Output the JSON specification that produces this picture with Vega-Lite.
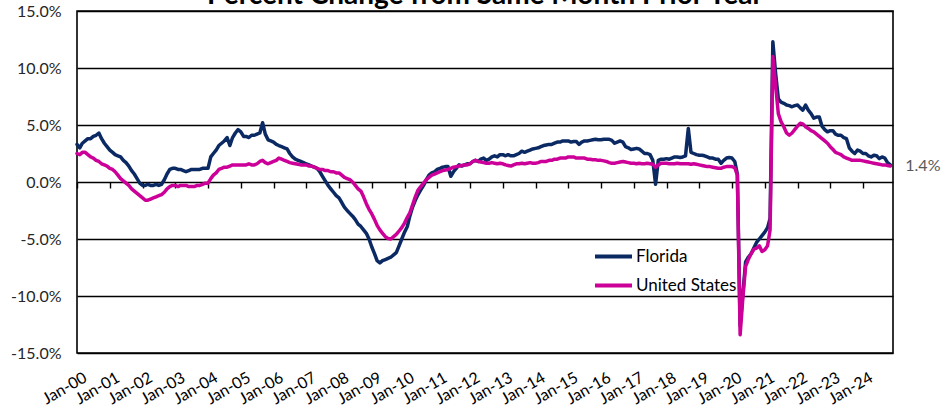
{
  "$schema": "https://vega.github.io/schema/vega-lite/v6.json",
  "width": 816,
  "height": 342,
  "autosize": "none",
  "padding": {"left": 77, "top": 11, "right": 51, "bottom": 53},
  "background": "white",
  "title": {"text": "Percent Change from Same Month Prior Year", "font": "Lato", "fontSize": 28, "fontWeight": "bold", "color": "#000000", "anchor": "middle", "dy": 11},
  "config": {"view": {"stroke": "#000000", "strokeWidth": 1.6}, "font": "Lato"},
  "datasets": {
    "emp": [
      {"date":"2000-01-01","fl":3.3,"us":2.5},{"date":"2000-02-01","fl":3.0,"us":2.4},{"date":"2000-03-01","fl":3.4,"us":2.6},{"date":"2000-04-01","fl":3.6,"us":2.6},{"date":"2000-05-01","fl":3.8,"us":2.4},{"date":"2000-06-01","fl":3.8,"us":2.2},{"date":"2000-07-01","fl":4.0,"us":2.1},{"date":"2000-08-01","fl":4.1,"us":1.9},{"date":"2000-09-01","fl":4.3,"us":1.8},{"date":"2000-10-01","fl":3.8,"us":1.6},{"date":"2000-11-01","fl":3.4,"us":1.5},{"date":"2000-12-01","fl":3.1,"us":1.4},
      {"date":"2001-01-01","fl":2.8,"us":1.2},{"date":"2001-02-01","fl":2.6,"us":1.1},{"date":"2001-03-01","fl":2.4,"us":0.9},{"date":"2001-04-01","fl":2.3,"us":0.6},{"date":"2001-05-01","fl":2.2,"us":0.3},{"date":"2001-06-01","fl":1.9,"us":0.1},{"date":"2001-07-01","fl":1.7,"us":-0.1},{"date":"2001-08-01","fl":1.4,"us":-0.3},{"date":"2001-09-01","fl":1.0,"us":-0.6},{"date":"2001-10-01","fl":0.7,"us":-0.8},{"date":"2001-11-01","fl":0.3,"us":-1.0},{"date":"2001-12-01","fl":-0.1,"us":-1.2},
      {"date":"2002-01-01","fl":-0.3,"us":-1.4},{"date":"2002-02-01","fl":-0.3,"us":-1.6},{"date":"2002-03-01","fl":-0.2,"us":-1.6},{"date":"2002-04-01","fl":-0.3,"us":-1.5},{"date":"2002-05-01","fl":-0.3,"us":-1.4},{"date":"2002-06-01","fl":-0.2,"us":-1.3},{"date":"2002-07-01","fl":-0.3,"us":-1.2},{"date":"2002-08-01","fl":-0.2,"us":-1.1},{"date":"2002-09-01","fl":0.2,"us":-0.9},{"date":"2002-10-01","fl":0.7,"us":-0.6},{"date":"2002-11-01","fl":1.1,"us":-0.4},{"date":"2002-12-01","fl":1.2,"us":-0.3},
      {"date":"2003-01-01","fl":1.2,"us":-0.3},{"date":"2003-02-01","fl":1.1,"us":-0.4},{"date":"2003-03-01","fl":1.1,"us":-0.3},{"date":"2003-04-01","fl":1.0,"us":-0.3},{"date":"2003-05-01","fl":0.9,"us":-0.3},{"date":"2003-06-01","fl":1.0,"us":-0.4},{"date":"2003-07-01","fl":1.1,"us":-0.4},{"date":"2003-08-01","fl":1.1,"us":-0.4},{"date":"2003-09-01","fl":1.1,"us":-0.3},{"date":"2003-10-01","fl":1.1,"us":-0.3},{"date":"2003-11-01","fl":1.2,"us":-0.2},{"date":"2003-12-01","fl":1.2,"us":-0.1},
      {"date":"2004-01-01","fl":1.2,"us":-0.1},{"date":"2004-02-01","fl":2.2,"us":0.3},{"date":"2004-03-01","fl":2.5,"us":0.6},{"date":"2004-04-01","fl":2.8,"us":0.8},{"date":"2004-05-01","fl":3.2,"us":1.1},{"date":"2004-06-01","fl":3.4,"us":1.2},{"date":"2004-07-01","fl":3.6,"us":1.3},{"date":"2004-08-01","fl":3.9,"us":1.3},{"date":"2004-09-01","fl":3.2,"us":1.4},{"date":"2004-10-01","fl":3.9,"us":1.5},{"date":"2004-11-01","fl":4.3,"us":1.5},{"date":"2004-12-01","fl":4.6,"us":1.5},
      {"date":"2005-01-01","fl":4.4,"us":1.5},{"date":"2005-02-01","fl":4.0,"us":1.5},{"date":"2005-03-01","fl":4.0,"us":1.5},{"date":"2005-04-01","fl":3.9,"us":1.6},{"date":"2005-05-01","fl":4.1,"us":1.5},{"date":"2005-06-01","fl":4.1,"us":1.5},{"date":"2005-07-01","fl":4.2,"us":1.6},{"date":"2005-08-01","fl":4.3,"us":1.8},{"date":"2005-09-01","fl":5.2,"us":1.9},{"date":"2005-10-01","fl":4.2,"us":1.7},{"date":"2005-11-01","fl":3.7,"us":1.6},{"date":"2005-12-01","fl":3.6,"us":1.7},
      {"date":"2006-01-01","fl":3.5,"us":1.8},{"date":"2006-02-01","fl":3.3,"us":1.9},{"date":"2006-03-01","fl":3.2,"us":2.1},{"date":"2006-04-01","fl":3.1,"us":2.0},{"date":"2006-05-01","fl":3.0,"us":1.9},{"date":"2006-06-01","fl":2.9,"us":1.8},{"date":"2006-07-01","fl":2.5,"us":1.7},{"date":"2006-08-01","fl":2.2,"us":1.65},{"date":"2006-09-01","fl":2.0,"us":1.6},{"date":"2006-10-01","fl":1.9,"us":1.55},{"date":"2006-11-01","fl":1.8,"us":1.5},{"date":"2006-12-01","fl":1.7,"us":1.5},
      {"date":"2007-01-01","fl":1.6,"us":1.5},{"date":"2007-02-01","fl":1.5,"us":1.4},{"date":"2007-03-01","fl":1.4,"us":1.4},{"date":"2007-04-01","fl":1.3,"us":1.3},{"date":"2007-05-01","fl":1.2,"us":1.2},{"date":"2007-06-01","fl":0.9,"us":1.1},{"date":"2007-07-01","fl":0.5,"us":1.1},{"date":"2007-08-01","fl":0.1,"us":1.0},{"date":"2007-09-01","fl":-0.3,"us":1.0},{"date":"2007-10-01","fl":-0.6,"us":0.9},{"date":"2007-11-01","fl":-0.9,"us":0.9},{"date":"2007-12-01","fl":-1.2,"us":0.8},
      {"date":"2008-01-01","fl":-1.4,"us":0.8},{"date":"2008-02-01","fl":-1.8,"us":0.6},{"date":"2008-03-01","fl":-2.2,"us":0.4},{"date":"2008-04-01","fl":-2.5,"us":0.3},{"date":"2008-05-01","fl":-2.75,"us":0.2},{"date":"2008-06-01","fl":-3.0,"us":0.0},{"date":"2008-07-01","fl":-3.3,"us":-0.3},{"date":"2008-08-01","fl":-3.7,"us":-0.6},{"date":"2008-09-01","fl":-3.9,"us":-0.8},{"date":"2008-10-01","fl":-4.2,"us":-1.3},{"date":"2008-11-01","fl":-4.5,"us":-1.9},{"date":"2008-12-01","fl":-5.0,"us":-2.4},
      {"date":"2009-01-01","fl":-5.7,"us":-2.8},{"date":"2009-02-01","fl":-6.3,"us":-3.3},{"date":"2009-03-01","fl":-6.9,"us":-3.8},{"date":"2009-04-01","fl":-7.1,"us":-4.2},{"date":"2009-05-01","fl":-6.9,"us":-4.5},{"date":"2009-06-01","fl":-6.8,"us":-4.8},{"date":"2009-07-01","fl":-6.7,"us":-4.95},{"date":"2009-08-01","fl":-6.6,"us":-5.0},{"date":"2009-09-01","fl":-6.4,"us":-4.8},{"date":"2009-10-01","fl":-6.2,"us":-4.6},{"date":"2009-11-01","fl":-5.6,"us":-4.3},{"date":"2009-12-01","fl":-5.0,"us":-4.0},
      {"date":"2010-01-01","fl":-4.4,"us":-3.6},{"date":"2010-02-01","fl":-3.9,"us":-3.1},{"date":"2010-03-01","fl":-3.0,"us":-2.7},{"date":"2010-04-01","fl":-2.2,"us":-2.0},{"date":"2010-05-01","fl":-1.6,"us":-1.3},{"date":"2010-06-01","fl":-1.1,"us":-0.7},{"date":"2010-07-01","fl":-0.7,"us":-0.4},{"date":"2010-08-01","fl":-0.3,"us":-0.1},{"date":"2010-09-01","fl":0.2,"us":0.2},{"date":"2010-10-01","fl":0.6,"us":0.4},{"date":"2010-11-01","fl":0.8,"us":0.6},{"date":"2010-12-01","fl":0.9,"us":0.7},
      {"date":"2011-01-01","fl":1.1,"us":0.8},{"date":"2011-02-01","fl":1.2,"us":0.9},{"date":"2011-03-01","fl":1.3,"us":1.0},{"date":"2011-04-01","fl":1.35,"us":1.05},{"date":"2011-05-01","fl":1.35,"us":1.1},{"date":"2011-06-01","fl":0.5,"us":1.2},{"date":"2011-07-01","fl":0.9,"us":1.3},{"date":"2011-08-01","fl":1.2,"us":1.35},{"date":"2011-09-01","fl":1.5,"us":1.4},{"date":"2011-10-01","fl":1.4,"us":1.45},{"date":"2011-11-01","fl":1.5,"us":1.5},{"date":"2011-12-01","fl":1.6,"us":1.5},
      {"date":"2012-01-01","fl":1.6,"us":1.6},{"date":"2012-02-01","fl":1.8,"us":1.8},{"date":"2012-03-01","fl":1.9,"us":1.9},{"date":"2012-04-01","fl":1.8,"us":1.8},{"date":"2012-05-01","fl":2.0,"us":1.75},{"date":"2012-06-01","fl":2.1,"us":1.7},{"date":"2012-07-01","fl":1.9,"us":1.65},{"date":"2012-08-01","fl":2.0,"us":1.65},{"date":"2012-09-01","fl":2.2,"us":1.7},{"date":"2012-10-01","fl":2.3,"us":1.65},{"date":"2012-11-01","fl":2.2,"us":1.6},{"date":"2012-12-01","fl":2.4,"us":1.65},
      {"date":"2013-01-01","fl":2.4,"us":1.6},{"date":"2013-02-01","fl":2.3,"us":1.5},{"date":"2013-03-01","fl":2.4,"us":1.45},{"date":"2013-04-01","fl":2.3,"us":1.4},{"date":"2013-05-01","fl":2.3,"us":1.5},{"date":"2013-06-01","fl":2.4,"us":1.6},{"date":"2013-07-01","fl":2.5,"us":1.6},{"date":"2013-08-01","fl":2.7,"us":1.65},{"date":"2013-09-01","fl":2.6,"us":1.6},{"date":"2013-10-01","fl":2.7,"us":1.65},{"date":"2013-11-01","fl":2.8,"us":1.7},{"date":"2013-12-01","fl":2.9,"us":1.65},
      {"date":"2014-01-01","fl":2.95,"us":1.65},{"date":"2014-02-01","fl":3.0,"us":1.7},{"date":"2014-03-01","fl":3.1,"us":1.8},{"date":"2014-04-01","fl":3.2,"us":1.8},{"date":"2014-05-01","fl":3.25,"us":1.8},{"date":"2014-06-01","fl":3.3,"us":1.9},{"date":"2014-07-01","fl":3.3,"us":1.9},{"date":"2014-08-01","fl":3.4,"us":2.0},{"date":"2014-09-01","fl":3.5,"us":2.0},{"date":"2014-10-01","fl":3.5,"us":2.1},{"date":"2014-11-01","fl":3.6,"us":2.1},{"date":"2014-12-01","fl":3.6,"us":2.1},
      {"date":"2015-01-01","fl":3.6,"us":2.2},{"date":"2015-02-01","fl":3.5,"us":2.2},{"date":"2015-03-01","fl":3.55,"us":2.2},{"date":"2015-04-01","fl":3.55,"us":2.1},{"date":"2015-05-01","fl":3.3,"us":2.1},{"date":"2015-06-01","fl":3.5,"us":2.1},{"date":"2015-07-01","fl":3.6,"us":2.1},{"date":"2015-08-01","fl":3.6,"us":2.0},{"date":"2015-09-01","fl":3.65,"us":2.0},{"date":"2015-10-01","fl":3.7,"us":1.95},{"date":"2015-11-01","fl":3.75,"us":1.95},{"date":"2015-12-01","fl":3.7,"us":1.9},
      {"date":"2016-01-01","fl":3.7,"us":1.9},{"date":"2016-02-01","fl":3.75,"us":1.85},{"date":"2016-03-01","fl":3.75,"us":1.8},{"date":"2016-04-01","fl":3.75,"us":1.7},{"date":"2016-05-01","fl":3.65,"us":1.65},{"date":"2016-06-01","fl":3.4,"us":1.65},{"date":"2016-07-01","fl":3.5,"us":1.7},{"date":"2016-08-01","fl":3.6,"us":1.75},{"date":"2016-09-01","fl":3.5,"us":1.8},{"date":"2016-10-01","fl":3.1,"us":1.75},{"date":"2016-11-01","fl":3.0,"us":1.7},{"date":"2016-12-01","fl":2.85,"us":1.65},
      {"date":"2017-01-01","fl":2.9,"us":1.65},{"date":"2017-02-01","fl":2.95,"us":1.6},{"date":"2017-03-01","fl":2.9,"us":1.65},{"date":"2017-04-01","fl":2.7,"us":1.6},{"date":"2017-05-01","fl":2.5,"us":1.6},{"date":"2017-06-01","fl":2.5,"us":1.65},{"date":"2017-07-01","fl":2.4,"us":1.6},{"date":"2017-08-01","fl":1.9,"us":1.55},{"date":"2017-09-01","fl":-0.2,"us":1.3},{"date":"2017-10-01","fl":1.9,"us":1.5},{"date":"2017-11-01","fl":2.0,"us":1.65},{"date":"2017-12-01","fl":2.0,"us":1.65},
      {"date":"2018-01-01","fl":2.05,"us":1.65},{"date":"2018-02-01","fl":2.0,"us":1.6},{"date":"2018-03-01","fl":2.1,"us":1.6},{"date":"2018-04-01","fl":2.2,"us":1.6},{"date":"2018-05-01","fl":2.2,"us":1.65},{"date":"2018-06-01","fl":2.15,"us":1.6},{"date":"2018-07-01","fl":2.2,"us":1.6},{"date":"2018-08-01","fl":2.3,"us":1.6},{"date":"2018-09-01","fl":4.7,"us":1.6},{"date":"2018-10-01","fl":2.6,"us":1.55},{"date":"2018-11-01","fl":2.5,"us":1.6},{"date":"2018-12-01","fl":2.4,"us":1.55},
      {"date":"2019-01-01","fl":2.35,"us":1.5},{"date":"2019-02-01","fl":2.35,"us":1.45},{"date":"2019-03-01","fl":2.3,"us":1.4},{"date":"2019-04-01","fl":2.2,"us":1.35},{"date":"2019-05-01","fl":2.1,"us":1.35},{"date":"2019-06-01","fl":2.1,"us":1.3},{"date":"2019-07-01","fl":2.0,"us":1.25},{"date":"2019-08-01","fl":2.0,"us":1.2},{"date":"2019-09-01","fl":1.65,"us":1.2},{"date":"2019-10-01","fl":1.9,"us":1.3},{"date":"2019-11-01","fl":2.1,"us":1.35},{"date":"2019-12-01","fl":2.15,"us":1.35},
      {"date":"2020-01-01","fl":2.1,"us":1.35},{"date":"2020-02-01","fl":1.8,"us":1.25},{"date":"2020-03-01","fl":0.7,"us":0.6},{"date":"2020-04-01","fl":-12.6,"us":-13.4},{"date":"2020-05-01","fl":-9.8,"us":-10.2},{"date":"2020-06-01","fl":-7.0,"us":-7.4},{"date":"2020-07-01","fl":-6.6,"us":-6.8},{"date":"2020-08-01","fl":-6.3,"us":-6.3},{"date":"2020-09-01","fl":-5.8,"us":-5.9},{"date":"2020-10-01","fl":-5.3,"us":-5.8},{"date":"2020-11-01","fl":-5.0,"us":-5.6},{"date":"2020-12-01","fl":-4.7,"us":-6.1},
      {"date":"2021-01-01","fl":-4.4,"us":-5.95},{"date":"2021-02-01","fl":-4.0,"us":-5.6},{"date":"2021-03-01","fl":-3.2,"us":-4.2},{"date":"2021-04-01","fl":12.3,"us":11.0},{"date":"2021-05-01","fl":9.6,"us":8.5},{"date":"2021-06-01","fl":7.3,"us":6.0},{"date":"2021-07-01","fl":7.0,"us":5.3},{"date":"2021-08-01","fl":6.9,"us":4.85},{"date":"2021-09-01","fl":6.75,"us":4.3},{"date":"2021-10-01","fl":6.7,"us":4.1},{"date":"2021-11-01","fl":6.6,"us":4.3},{"date":"2021-12-01","fl":6.7,"us":4.6},
      {"date":"2022-01-01","fl":6.75,"us":4.9},{"date":"2022-02-01","fl":6.5,"us":5.15},{"date":"2022-03-01","fl":6.3,"us":5.1},{"date":"2022-04-01","fl":6.75,"us":4.85},{"date":"2022-05-01","fl":6.3,"us":4.7},{"date":"2022-06-01","fl":6.0,"us":4.5},{"date":"2022-07-01","fl":5.6,"us":4.4},{"date":"2022-08-01","fl":5.7,"us":4.2},{"date":"2022-09-01","fl":5.7,"us":4.0},{"date":"2022-10-01","fl":4.9,"us":3.8},{"date":"2022-11-01","fl":4.6,"us":3.6},{"date":"2022-12-01","fl":4.4,"us":3.4},
      {"date":"2023-01-01","fl":4.5,"us":3.1},{"date":"2023-02-01","fl":4.5,"us":2.85},{"date":"2023-03-01","fl":4.2,"us":2.6},{"date":"2023-04-01","fl":4.1,"us":2.5},{"date":"2023-05-01","fl":4.1,"us":2.4},{"date":"2023-06-01","fl":3.9,"us":2.2},{"date":"2023-07-01","fl":3.8,"us":2.1},{"date":"2023-08-01","fl":3.0,"us":2.0},{"date":"2023-09-01","fl":2.7,"us":1.9},{"date":"2023-10-01","fl":2.5,"us":1.9},{"date":"2023-11-01","fl":2.8,"us":1.9},{"date":"2023-12-01","fl":2.7,"us":1.9},
      {"date":"2024-01-01","fl":2.5,"us":1.85},{"date":"2024-02-01","fl":2.5,"us":1.8},{"date":"2024-03-01","fl":2.3,"us":1.75},{"date":"2024-04-01","fl":2.2,"us":1.7},{"date":"2024-05-01","fl":2.35,"us":1.65},{"date":"2024-06-01","fl":2.3,"us":1.6},{"date":"2024-07-01","fl":2.05,"us":1.55},{"date":"2024-08-01","fl":2.2,"us":1.5},{"date":"2024-09-01","fl":2.1,"us":1.5},{"date":"2024-10-01","fl":1.7,"us":1.45},{"date":"2024-11-01","fl":1.5,"us":1.4}
    ]
  },
  "data": {"name": "emp"},
  "resolve": {"axis": {"x": "independent"}},
  "layer": [
    {
      "transform": [{"fold": ["fl", "us"], "as": ["key", "value"]}, {"calculate": "datum.key == 'fl' ? 'Florida' : 'United States'", "as": "series"}],
      "mark": {"type": "line", "strokeWidth": 3.5, "strokeCap": "round", "strokeJoin": "round"},
      "encoding": {
        "x": {"field": "date", "type": "temporal",
          "scale": {"type": "utc", "domain": [{"year": 2000, "month": 1, "date": 1, "utc": true}, {"year": 2024, "month": 12, "date": 1, "utc": true}]},
          "axis": {"orient": "bottom", "title": null, "tickCount": {"interval": "year", "step": 1}, "labelExpr": "utcFormat(datum.value, '%b-%y')", "labelAngle": -30, "labelFontSize": 16, "labelColor": "#000000", "labelPadding": 16, "labelOffset": 4, "ticks": false, "domain": false, "grid": false, "labelOverlap": false, "labelFlush": false, "labelBound": false}},
        "y": {"field": "value", "type": "quantitative",
          "scale": {"domain": [-15, 15], "nice": false, "zero": false},
          "axis": {"title": null, "values": [-15, -10, -5, 0, 5, 10, 15], "labelExpr": "(datum.value < 0 ? '-' : '') + format(abs(datum.value), '.1f') + '%'", "grid": true, "gridColor": "#000000", "gridWidth": 1.4, "gridOpacity": 1, "domain": false, "ticks": false, "labelFontSize": 16, "labelColor": "#262626", "labelPadding": 16}},
        "color": {"field": "series", "type": "nominal",
          "scale": {"domain": ["Florida", "United States"], "range": ["#0B2A63", "#CC0099"]},
          "legend": {"orient": "none", "legendX": 516, "legendY": 225, "title": null, "symbolType": "stroke", "symbolSize": 1369, "symbolStrokeWidth": 4, "labelFontSize": 17, "labelColor": "#000000", "labelOffset": 2, "rowPadding": -12, "padding": 0}}
      }
    },
    {
      "transform": [{"filter": "utcyear(datum.date) == 2024 && utcmonth(datum.date) == 10"}, {"calculate": "format(datum.us, '.1f') + '%'", "as": "lab"}],
      "mark": {"type": "text", "align": "left", "baseline": "middle", "dx": 15, "fontSize": 16, "color": "#595959"},
      "encoding": {
        "x": {"field": "date", "type": "temporal",
          "axis": {"orient": "bottom", "offset": -171, "title": null, "labels": false, "domain": false, "grid": false, "ticks": true, "tickSize": 6, "tickColor": "#000000", "tickWidth": 1.4, "tickCount": {"interval": "year", "step": 1}}},
        "y": {"field": "us", "type": "quantitative"},
        "text": {"field": "lab", "type": "nominal"}
      }
    }
  ]
}
